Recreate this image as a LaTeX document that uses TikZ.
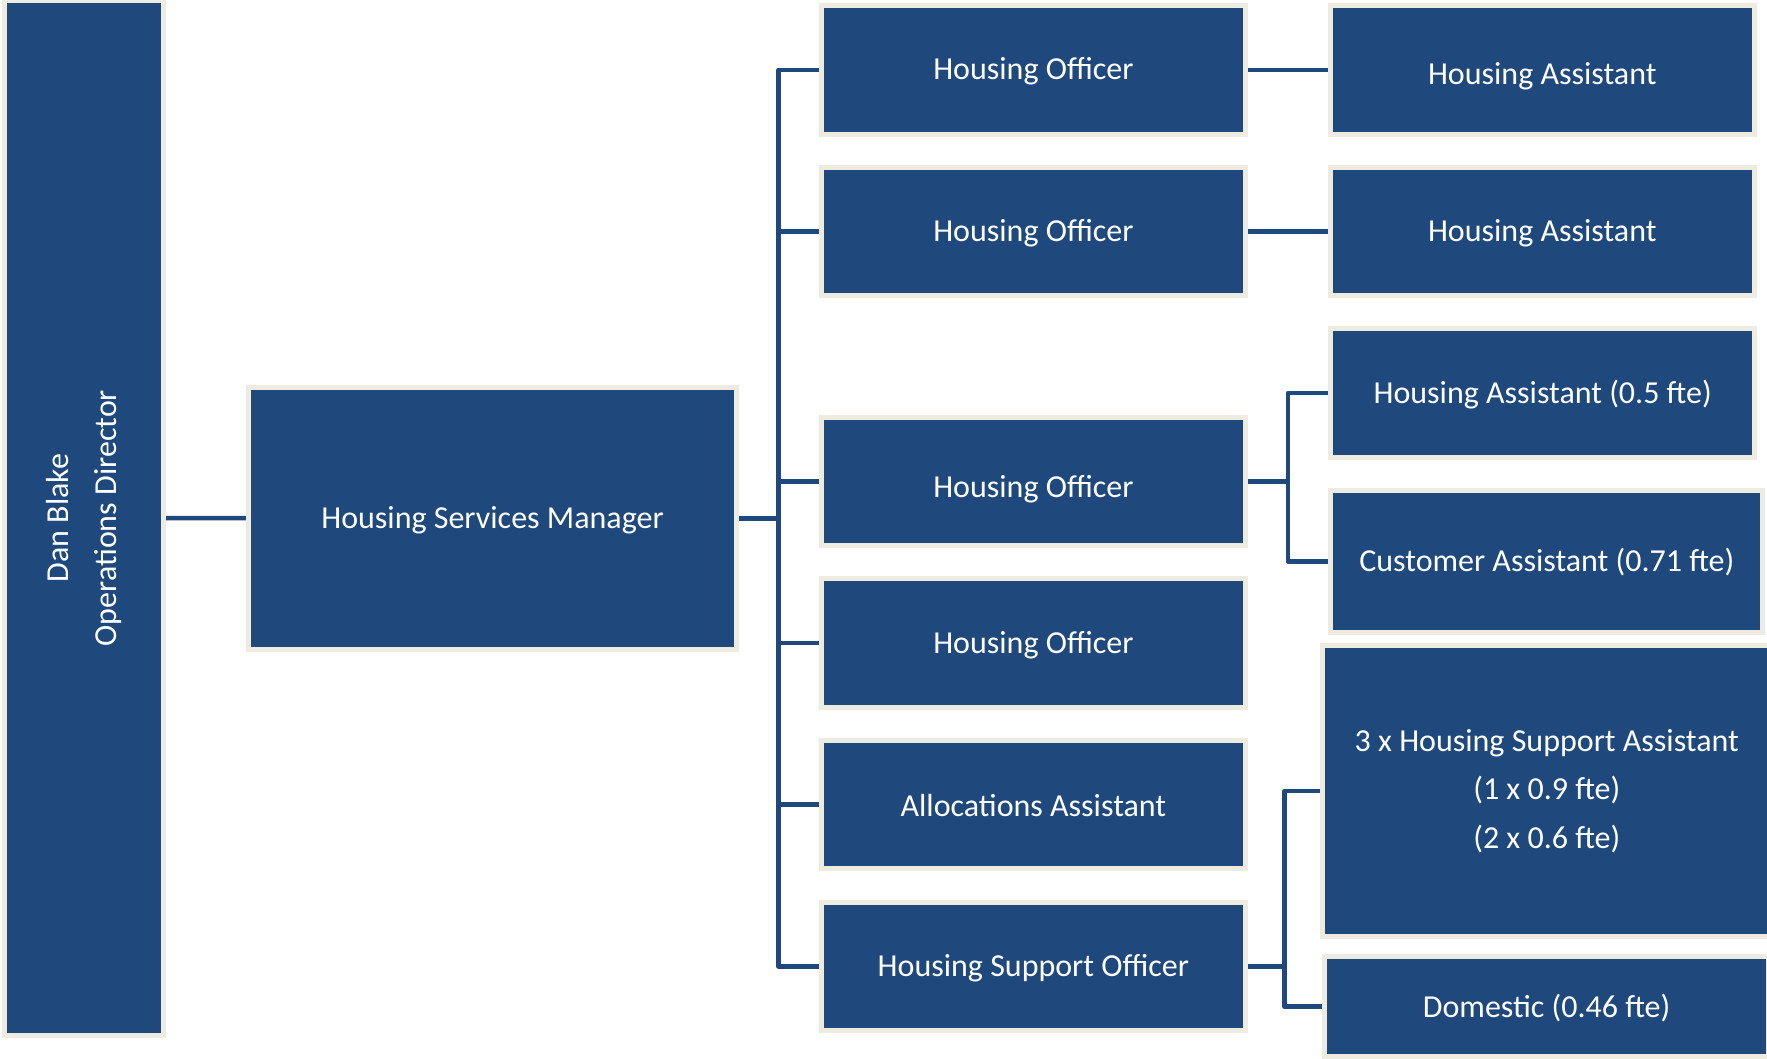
\documentclass[tikz,border=0pt]{standalone}
\usepackage{fontspec}
\setmainfont{Carlito}
\usetikzlibrary{backgrounds}
\definecolor{boxblue}{HTML}{1F497D}
\definecolor{cream}{HTML}{EEECE1}
\newcommand\lowr[2]{\raisebox{-#1pt}[\height][\depth]{#2}}
\begin{document}
\begin{tikzpicture}[x=1pt,y=-1pt,
  box/.style={draw=cream, line width=5pt, fill=boxblue, text=white, inner sep=0pt, align=center, font=\fontsize{32}{48.5}\selectfont},
  ho/.style={box, minimum width=424.4pt, minimum height=128.4pt},
  conn/.style={draw=boxblue, line width=4.5pt, line join=round}]
\useasboundingbox (0,0) rectangle (1767,1059);
\clip (0,0) rectangle (1767,1059);

\node[box, rotate=90, minimum width=1035.3pt, minimum height=159pt] (dan) at (84,518.1) {Dan Blake\\Operations Director};
\node[box, minimum width=488pt, minimum height=262.3pt] (mgr) at (492.5,518.3) {\lowr{1.5}{Housing Services Manager}};

\node[ho] (ho1) at (1033.4,70) {\lowr{1.5}{Housing Officer}};
\node[ho] (ho2) at (1033.4,231.3) {\lowr{2}{Housing Officer}};
\node[ho] (ho3) at (1033.4,481.3) {\lowr{8}{Housing Officer}};
\node[ho] (ho4) at (1033.4,643) {\lowr{2}{Housing Officer}};
\node[ho] (alloc) at (1033.4,804.6) {\lowr{0.5}{Allocations Assistant}};
\node[ho] (hso) at (1033.4,966.3) {\lowr{2}{Housing Support Officer}};

\node[box, minimum width=423.7pt, minimum height=128.4pt] (ha1) at (1542.3,70) {\lowr{6}{Housing Assistant}};
\node[box, minimum width=423.7pt, minimum height=128.4pt] (ha2) at (1542.3,231.3) {\lowr{2}{Housing Assistant}};
\node[box, minimum width=423.6pt, minimum height=129pt] (ha3) at (1542.7,393) {\lowr{1.5}{Housing Assistant (0.5 fte)}};
\node[box, minimum width=432pt, minimum height=142.3pt] (ca) at (1546.8,561.3) {\lowr{0.5}{Customer Assistant (0.71 fte)}};
\node[box, minimum width=447.8pt, minimum height=291.6pt] (hsa) at (1546.8,791) {3 x Housing Support Assistant\\(1 x 0.9 fte)\\(2 x 0.6 fte)};
\node[box, minimum width=443.8pt, minimum height=99.7pt] (dom) at (1546.6,1006.7) {\lowr{1}{Domestic (0.46 fte)}};

\coordinate (tx) at (778.5,518.3);
\coordinate (s1) at (1288,481.3);
\coordinate (s2) at (1284.5,966.3);

\begin{scope}[on background layer]
\fill[white] (0,0) rectangle (1767,1059);
\draw[conn] (dan) -- (mgr);
\draw[conn] (mgr.east) -- (tx);
\draw[conn] (ho1.west) -| (tx) |- (hso.west);
\foreach \n in {ho2,ho3,ho4,alloc} \draw[conn] (tx |- \n.west) -- (\n.west);
\draw[conn] (ho1) -- (ha1);
\draw[conn] (ho2) -- (ha2);
\draw[conn] (ho3.east) -- (s1);
\draw[conn] (ha3.west) -| (s1) |- (ca.west);
\draw[conn] (hso.east) -- (s2);
\draw[conn] (hsa.west) -| (s2) |- (dom.west);
\end{scope}
\end{tikzpicture}
\end{document}
